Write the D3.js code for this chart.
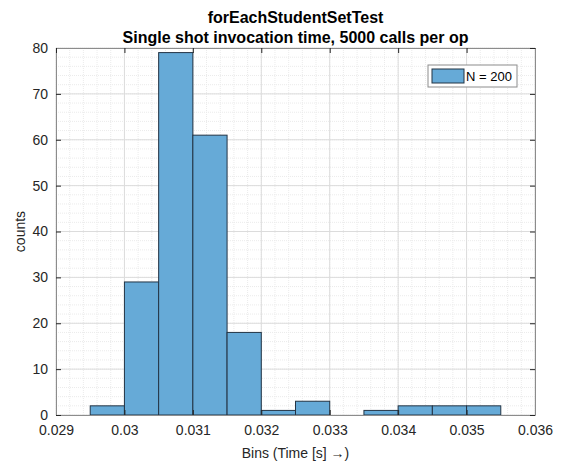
<!DOCTYPE html>
<html>
<head>
<meta charset="utf-8">
<script src="https://cdn.jsdelivr.net/npm/d3@7/dist/d3.min.js"></script>
<style>
  body { margin: 0; background: #fff; }
  svg { display: block; font-family: "Liberation Sans", Arial, Helvetica, sans-serif; }
</style>
</head>
<body>
<svg id="chart" width="563" height="466"></svg>
<script>
// Histogram bin edges (seconds) and counts per bin
const binEdges = [0.0295, 0.0300, 0.0305, 0.0310, 0.0315, 0.0320, 0.0325, 0.0330, 0.0335, 0.0340, 0.0345, 0.0350, 0.0355];
const binCounts = [2, 29, 79, 61, 18, 1, 3, 0, 1, 2, 2, 2];
const xTicks = [0.029, 0.030, 0.031, 0.032, 0.033, 0.034, 0.035, 0.036];
const xTickLabels = ["0.029", "0.03", "0.031", "0.032", "0.033", "0.034", "0.035", "0.036"];
const yTicks = [0, 10, 20, 30, 40, 50, 60, 70, 80];
const titleLines = ["forEachStudentSetTest", "Single shot invocation time, 5000 calls per op"];
const legendLabel = "N = " + d3.sum(binCounts);

const svg = d3.select("#chart");
const m = { left: 56, right: 535, top: 48, bottom: 415 };

const x = d3.scaleLinear().domain([0.029, 0.036]).range([m.left, m.right]);
const y = d3.scaleLinear().domain([0, 80]).range([m.bottom, m.top]);

const bins = binCounts.map((c, i) => ({ x0: binEdges[i], x1: binEdges[i + 1], n: c }));

// Minor grid
const xMinor = d3.range(0.029, 0.03601, 0.0002).map(v => +v.toFixed(5));
const yMinor = d3.range(0, 80.01, 2);
const grid = svg.append("g");
grid.selectAll("line.xm").data(xMinor).join("line")
  .attr("x1", d => x(d)).attr("x2", d => x(d)).attr("y1", m.top).attr("y2", m.bottom)
  .attr("stroke", "#ebebeb").attr("stroke-width", 1).attr("stroke-dasharray", "1,1");
grid.selectAll("line.ym").data(yMinor).join("line")
  .attr("y1", d => y(d)).attr("y2", d => y(d)).attr("x1", m.left).attr("x2", m.right)
  .attr("stroke", "#ebebeb").attr("stroke-width", 1).attr("stroke-dasharray", "1,1");
// Major grid
grid.selectAll("line.xM").data(xTicks).join("line")
  .attr("x1", d => x(d)).attr("x2", d => x(d)).attr("y1", m.top).attr("y2", m.bottom)
  .attr("stroke", "#dcdcdc").attr("stroke-width", 1);
grid.selectAll("line.yM").data(yTicks).join("line")
  .attr("y1", d => y(d)).attr("y2", d => y(d)).attr("x1", m.left).attr("x2", m.right)
  .attr("stroke", "#dcdcdc").attr("stroke-width", 1);

// Bars
svg.append("g").selectAll("rect").data(bins.filter(b => b.n > 0)).join("rect")
  .attr("x", d => x(d.x0))
  .attr("width", d => x(d.x1) - x(d.x0))
  .attr("y", d => y(d.n))
  .attr("height", d => y(0) - y(d.n))
  .attr("fill", "#66aad7")
  .attr("stroke", "#233445")
  .attr("stroke-width", 1);

// Axes (ticks inward, box around plot)
const tickColor = "#262626";
const xAxis = d3.axisBottom(x).tickValues(xTicks).tickFormat((d, i) => xTickLabels[i]).tickSizeInner(-5).tickSizeOuter(0).tickPadding(10);
const yAxis = d3.axisLeft(y).tickValues(yTicks).tickSizeInner(-5).tickSizeOuter(0).tickPadding(8);
const xTop = d3.axisTop(x).tickValues(xTicks).tickFormat("").tickSizeInner(-5).tickSizeOuter(0);
const yRight = d3.axisRight(y).tickValues(yTicks).tickFormat("").tickSizeInner(-5).tickSizeOuter(0);

function styleAxis(g) {
  g.select(".domain").attr("stroke", "#8c8c8c");
  g.selectAll(".tick line").attr("stroke", "#262626");
  g.selectAll(".tick text").attr("fill", tickColor).style("font-size", "14px").style("font-family", "Liberation Sans, Arial, sans-serif");
}
svg.append("g").attr("transform", `translate(0,${m.bottom})`).call(xAxis).call(styleAxis);
svg.append("g").attr("transform", `translate(${m.left},0)`).call(yAxis).call(styleAxis);
svg.append("g").attr("transform", `translate(0,${m.top})`).call(xTop).call(styleAxis);
svg.append("g").attr("transform", `translate(${m.right},0)`).call(yRight).call(styleAxis);

// Titles
svg.append("g").selectAll("text").data(titleLines).join("text")
  .attr("x", (m.left + m.right) / 2)
  .attr("y", (d, i) => 23 + i * 20)
  .attr("text-anchor", "middle")
  .attr("font-weight", "bold")
  .attr("font-size", "16px")
  .attr("fill", "#000")
  .text(d => d);

// Axis labels
svg.append("text")
  .attr("x", (m.left + m.right) / 2).attr("y", 458)
  .attr("text-anchor", "middle").attr("font-size", "14px").attr("fill", tickColor)
  .text("Bins (Time [s] \u2192)");
svg.append("text")
  .attr("transform", `translate(25,${(m.top + m.bottom) / 2}) rotate(-90)`)
  .attr("text-anchor", "middle").attr("font-size", "14px").attr("fill", tickColor)
  .text("counts");

// Legend
const lg = svg.append("g").attr("transform", "translate(428,65)");
lg.append("rect").attr("width", 89).attr("height", 22).attr("fill", "#fff").attr("stroke", "#8c8c8c");
lg.append("rect").attr("x", 4).attr("y", 4).attr("width", 32).attr("height", 14)
  .attr("fill", "#66aad7").attr("stroke", "#233445");
lg.append("text").attr("x", 38).attr("y", 16).attr("font-size", "13px").attr("fill", "#000").text(legendLabel);
</script>
</body>
</html>
